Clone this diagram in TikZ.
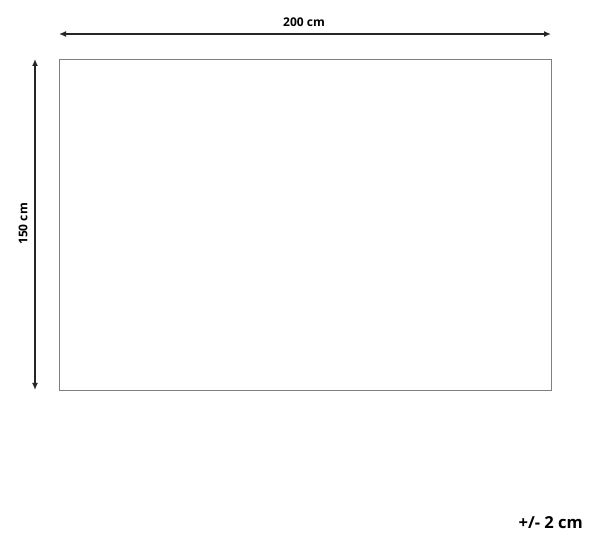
\documentclass[tikz,border=0pt]{standalone}
\usepackage{fontspec}
\setmainfont{Open Sans}
\usetikzlibrary{arrows.meta}
\begin{document}
\begin{tikzpicture}[x=1pt,y=-1pt,
  dim/.style={{Latex[length=7pt,width=6pt]}-{Latex[length=7pt,width=6pt]},black!85,line width=2pt},
  lbl/.style={font=\fontsize{12}{14}\selectfont\bfseries,inner sep=0pt}]
\useasboundingbox (0,0) rectangle (600,553);

\draw [gray,line width=0.8pt] (59,59) rectangle (551,390);

\coordinate (wl) at (59,34);
\coordinate (wr) at (551,34);
\draw[dim] (wl) -- (wr);
\node[lbl] (width) at (304,22) {200 cm};

\coordinate (ht) at (35,59);
\coordinate (hb) at (35,390);
\draw[dim] (ht) -- (hb);
\node[lbl,rotate=90] (height) at (23,224) {150 cm};

\node[lbl,font=\fontsize{16.5}{19}\selectfont\bfseries,anchor=east] (tol) at (583,523) {+/- 2 cm};
\end{tikzpicture}
\end{document}
